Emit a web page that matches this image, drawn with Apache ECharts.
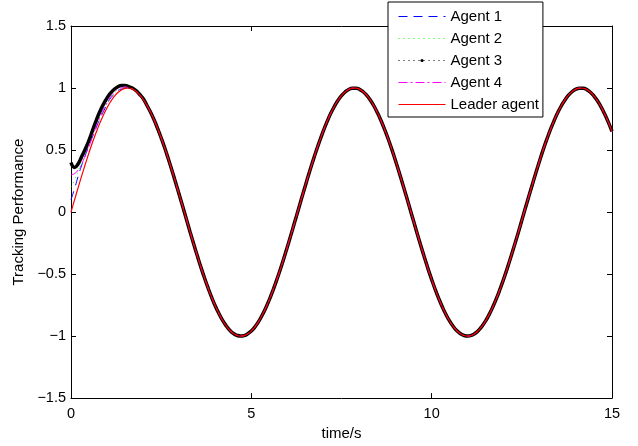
<!DOCTYPE html>
<html>
<head>
<meta charset="utf-8">
<script src="https://cdn.jsdelivr.net/npm/echarts@6/dist/echarts.min.js"></script>
<style>
html, body {margin: 0; padding: 0; background: #fff;}
#chart {width: 638px; height: 446px;}
</style>
</head>
<body>
<div id="chart"></div>
<script>
// time samples (s), every 0.1 s
var time = [
    0.0, 0.1, 0.2, 0.3, 0.4, 0.5, 0.6, 0.7, 0.8, 0.9,
    1.0, 1.1, 1.2, 1.3, 1.4, 1.5, 1.6, 1.7, 1.8, 1.9,
    2.0, 2.1, 2.2, 2.3, 2.4, 2.5, 2.6, 2.7, 2.8, 2.9,
    3.0, 3.1, 3.2, 3.3, 3.4, 3.5, 3.6, 3.7, 3.8, 3.9,
    4.0, 4.1, 4.2, 4.3, 4.4, 4.5, 4.6, 4.7, 4.8, 4.9,
    5.0, 5.1, 5.2, 5.3, 5.4, 5.5, 5.6, 5.7, 5.8, 5.9,
    6.0, 6.1, 6.2, 6.3, 6.4, 6.5, 6.6, 6.7, 6.8, 6.9,
    7.0, 7.1, 7.2, 7.3, 7.4, 7.5, 7.6, 7.7, 7.8, 7.9,
    8.0, 8.1, 8.2, 8.3, 8.4, 8.5, 8.6, 8.7, 8.8, 8.9,
    9.0, 9.1, 9.2, 9.3, 9.4, 9.5, 9.6, 9.7, 9.8, 9.9,
    10.0, 10.1, 10.2, 10.3, 10.4, 10.5, 10.6, 10.7, 10.8, 10.9,
    11.0, 11.1, 11.2, 11.3, 11.4, 11.5, 11.6, 11.7, 11.8, 11.9,
    12.0, 12.1, 12.2, 12.3, 12.4, 12.5, 12.6, 12.7, 12.8, 12.9,
    13.0, 13.1, 13.2, 13.3, 13.4, 13.5, 13.6, 13.7, 13.8, 13.9,
    14.0, 14.1, 14.2, 14.3, 14.4, 14.5, 14.6, 14.7, 14.8, 14.9,
    15.0];

// leader agent (red)
var leader = [
    0.000, 0.100, 0.199, 0.296, 0.389, 0.479, 0.565, 0.644, 0.717, 0.783,
    0.841, 0.891, 0.932, 0.964, 0.985, 0.997, 1.000, 0.992, 0.974, 0.946,
    0.909, 0.863, 0.808, 0.746, 0.675, 0.598, 0.516, 0.427, 0.335, 0.239,
    0.141, 0.042, -0.058, -0.158, -0.256, -0.351, -0.443, -0.530, -0.612, -0.688,
    -0.757, -0.818, -0.872, -0.916, -0.952, -0.978, -0.994, -1.000, -0.996, -0.982,
    -0.959, -0.926, -0.883, -0.832, -0.773, -0.706, -0.631, -0.551, -0.465, -0.374,
    -0.279, -0.182, -0.083, 0.017, 0.117, 0.215, 0.312, 0.405, 0.494, 0.578,
    0.657, 0.729, 0.794, 0.850, 0.899, 0.938, 0.968, 0.988, 0.999, 0.999,
    0.989, 0.970, 0.941, 0.902, 0.855, 0.798, 0.734, 0.663, 0.585, 0.501,
    0.412, 0.319, 0.223, 0.125, 0.025, -0.075, -0.174, -0.272, -0.366, -0.458,
    -0.544, -0.625, -0.700, -0.768, -0.828, -0.880, -0.923, -0.957, -0.981, -0.995,
    -1.000, -0.995, -0.979, -0.954, -0.919, -0.876, -0.823, -0.762, -0.694, -0.618,
    -0.537, -0.450, -0.358, -0.263, -0.166, -0.066, 0.034, 0.133, 0.231, 0.327,
    0.420, 0.509, 0.592, 0.670, 0.740, 0.804, 0.859, 0.906, 0.944, 0.972,
    0.991, 0.999, 0.998, 0.987, 0.966, 0.935, 0.895, 0.846, 0.788, 0.723,
    0.650];

// followers before they lock onto the leader (after that they sit on the red curve)
var agent1Start = [0.10, 0.19, 0.29, 0.38, 0.46, 0.54, 0.61, 0.68, 0.75, 0.81, 0.87, 0.92, 0.95, 0.98, 0.99, 1.00];
var agent2Start = [0.20, 0.26, 0.33, 0.41, 0.49, 0.56, 0.63, 0.70, 0.77, 0.83, 0.88, 0.92, 0.96, 0.98, 0.99, 1.00];
var agent3Start = [0.40, 0.36, 0.39, 0.45, 0.51, 0.58, 0.66, 0.74, 0.81, 0.87, 0.92, 0.96, 0.99, 1.01, 1.02, 1.02, 1.01, 1.00, 0.98, 0.95, 0.915];
var agent4Start = [0.30, 0.31, 0.34, 0.39, 0.46, 0.53, 0.61, 0.69, 0.76, 0.83, 0.88, 0.93, 0.97, 0.99, 1.00, 1.01];

function build(start) {
    var out = [];
    for (var i = 0; i < time.length; i++) {
        var v = i < start.length ? start[i] : leader[i];
        out.push([time[i], v]);
    }
    return out;
}

var font = 'Liberation Sans, Arial, Helvetica, sans-serif';
var minus = function (v) { return String(v).replace('-', '\u2212'); };
var boxLine = {onZero: false, lineStyle: {color: '#000', width: 1}};
var inTick = {show: true, inside: true, length: 5, lineStyle: {color: '#000'}};

var option = {
    animation: false,
    backgroundColor: '#fff',
    grid: {left: 71, right: 26, top: 26, bottom: 47},
    legend: {
        orient: 'vertical',
        left: 388, top: 2,
        padding: [6, 4, 4, 10],
        backgroundColor: '#fff',
        borderColor: '#000', borderWidth: 1,
        itemWidth: 47, itemHeight: 4, itemGap: 5,
        textStyle: {fontFamily: font, fontSize: 15, color: '#000', lineHeight: 17},
        data: [
            {name: 'Agent 1', itemStyle: {opacity: 0}, lineStyle: {width: 1}},
            {name: 'Agent 2', itemStyle: {opacity: 0}, lineStyle: {width: 1}},
            {name: 'Agent 3', lineStyle: {type: [1, 4], width: 1}},
            {name: 'Agent 4', itemStyle: {opacity: 0}, lineStyle: {width: 1}},
            {name: 'Leader agent', itemStyle: {opacity: 0}, lineStyle: {width: 1}}
        ]
    },
    xAxis: [{
        type: 'value', min: 0, max: 15, interval: 5,
        position: 'bottom',
        axisLine: boxLine,
        axisTick: inTick,
        axisLabel: {color: '#000', fontSize: 14.5, fontFamily: font, margin: 8},
        splitLine: {show: false},
        name: 'time/s', nameLocation: 'middle', nameGap: 26,
        nameTextStyle: {color: '#000', fontSize: 15, fontFamily: font}
    }, {
        type: 'value', min: 0, max: 15, interval: 5,
        position: 'top',
        axisLine: boxLine,
        axisTick: inTick,
        axisLabel: {show: false},
        splitLine: {show: false}
    }],
    yAxis: [{
        type: 'value', min: -1.5, max: 1.5, interval: 0.5,
        position: 'left',
        axisLine: {show: true, onZero: false, lineStyle: {color: '#000', width: 1}},
        axisTick: inTick,
        axisLabel: {color: '#000', fontSize: 14.5, fontFamily: font, margin: 5, formatter: minus},
        splitLine: {show: false},
        name: 'Tracking Performance', nameLocation: 'middle', nameGap: 44,
        nameTextStyle: {color: '#000', fontSize: 15, fontFamily: font}
    }, {
        type: 'value', min: -1.5, max: 1.5, interval: 0.5,
        position: 'right',
        axisLine: {show: true, onZero: false, lineStyle: {color: '#000', width: 1}},
        axisTick: inTick,
        axisLabel: {show: false},
        splitLine: {show: false}
    }],
    series: [
        {
            name: 'Agent 1', type: 'line', smooth: true, symbol: 'none',
            color: '#0000ff',
            lineStyle: {color: '#0000ff', width: 1, type: [9, 6]},
            data: build(agent1Start)
        },
        {
            name: 'Agent 2', type: 'line', smooth: true, symbol: 'none',
            color: '#00ff00',
            lineStyle: {color: '#00ff00', width: 1, type: [1, 4]},
            data: build(agent2Start)
        },
        {
            name: 'Agent 3', type: 'line', smooth: true, symbol: 'circle', showSymbol: false,
            color: '#000',
            itemStyle: {color: '#000'},
            lineStyle: {color: '#000', width: 3.5},
            data: build(agent3Start)
        },
        {
            name: 'Agent 4', type: 'line', smooth: true, symbol: 'none',
            color: '#ff00ff',
            lineStyle: {color: '#ff00ff', width: 1, type: [9, 3, 2, 3]},
            data: build(agent4Start)
        },
        {
            name: 'Leader agent', type: 'line', smooth: true, symbol: 'none',
            color: '#ff0000',
            lineStyle: {color: '#ff0000', width: 1.2},
            data: build(leader)
        }
    ]
};

var myChart = echarts.init(document.getElementById('chart'));
myChart.setOption(option);
</script>
</body>
</html>
